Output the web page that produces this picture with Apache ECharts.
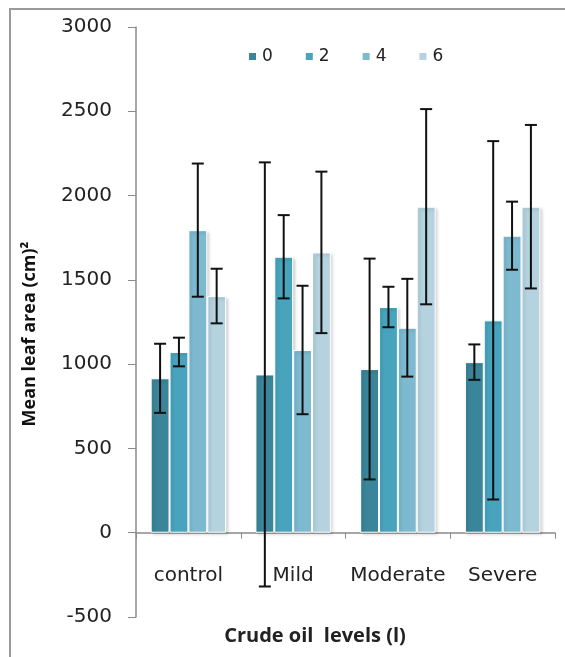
<!DOCTYPE html>
<html>
<head>
<meta charset="utf-8">
<script src="https://cdn.jsdelivr.net/npm/echarts@6/dist/echarts.min.js"></script>
<style>
  html, body { margin: 0; padding: 0; background: #fff; }
  #chart { width: 565px; height: 657px; }
</style>
</head>
<body>
<div id="chart"></div>
<script>
// Crude oil stress levels and plant age groups
const categories = ['control', 'Mild', 'Moderate', 'Severe'];
const seriesNames = ['0', '2', '4', '6'];

// Mean leaf area per group
const mean0 = [916, 939, 971, 1012];
const mean2 = [1072, 1637, 1339, 1260];
const mean4 = [1795, 1084, 1216, 1762];
const mean6 = [1404, 1663, 1934, 1934];

// Error (± value) per group
const err0 = [205, 1258, 655, 105];
const err2 = [85, 247, 120, 1063];
const err4 = [395, 381, 290, 202];
const err6 = [162, 479, 579, 485];

const yTicks = { min: -500, max: 3000, interval: 500 };

const means = [mean0, mean2, mean4, mean6];
const errs = [err0, err2, err4, err6];
const colors = ['#3a8599', '#48a4bd', '#7dbad0', '#b4d3df'];
const catGap = 0.28;
const labelFont = 'DejaVu Sans, sans-serif';
const titleFont = 'Open Sans, Liberation Sans, sans-serif';

const chart = echarts.init(document.getElementById('chart'));

const barSeries = seriesNames.map((name, i) => ({
  name: name,
  type: 'bar',
  data: means[i],
  barGap: '0%',
  barCategoryGap: (catGap * 100) + '%',
  itemStyle: {
    color: colors[i],
    borderColor: '#ffffff',
    borderWidth: 1,
    shadowColor: 'rgba(0,0,0,0.18)',
    shadowBlur: 3,
    shadowOffsetX: 2,
    shadowOffsetY: 2
  },
  z: 2
}));

// Error bars drawn on top of each bar
const errorSeries = seriesNames.map((name, i) => ({
  type: 'custom',
  name: 'err' + name,
  data: means[i].map((m, k) => [k, m - errs[i][k], m + errs[i][k]]),
  z: 10,
  silent: true,
  renderItem: function (params, api) {
    const k = api.value(0);
    const low = api.coord([k, api.value(1)]);
    const high = api.coord([k, api.value(2)]);
    const catW = api.size([1, 0])[0];
    const barW = catW * (1 - catGap) / 4;
    const x = low[0] + (i - 1.5) * barW;
    const cap = 6;
    const style = { stroke: '#111', lineWidth: 2 };
    return {
      type: 'group',
      children: [
        { type: 'line', shape: { x1: x, y1: low[1], x2: x, y2: high[1] }, style: style },
        { type: 'line', shape: { x1: x - cap, y1: high[1], x2: x + cap, y2: high[1] }, style: style },
        { type: 'line', shape: { x1: x - cap, y1: low[1], x2: x + cap, y2: low[1] }, style: style }
      ]
    };
  }
}));

chart.setOption({
  animation: false,
  backgroundColor: '#ffffff',
  graphic: [{
    type: 'rect',
    shape: { x: 10, y: 9, width: 570, height: 670 },
    style: { fill: 'none', stroke: '#9a9a9a', lineWidth: 2 },
    silent: true
  }, {
    type: 'text',
    x: 30,
    y: 334,
    rotation: Math.PI / 2,
    style: {
      text: 'Mean leaf area (cm)²',
      fontFamily: titleFont,
      fontSize: 18,
      fontWeight: 'bold',
      fill: '#111',
      align: 'center',
      verticalAlign: 'middle'
    }
  }, {
    type: 'text',
    x: 315,
    y: 636,
    style: {
      text: 'Crude oil  levels (l)',
      fontFamily: titleFont,
      fontSize: 20,
      fontWeight: 'bold',
      fill: '#222',
      align: 'center',
      verticalAlign: 'middle'
    }
  }],
  legend: {
    data: seriesNames,
    top: 43,
    left: 242,
    itemWidth: 9,
    itemHeight: 9,
    itemGap: 31,
    icon: 'rect',
    textStyle: { fontFamily: labelFont, fontSize: 17, color: '#222', padding: [0, 0, 0, 0] }
  },
  grid: { left: 136, right: 10, top: 27, bottom: 40 },
  xAxis: {
    type: 'category',
    data: categories,
    axisLine: { onZero: true, lineStyle: { color: '#8a8a8a', width: 1.5 } },
    axisTick: { show: true, length: 6, lineStyle: { color: '#8a8a8a' } },
    axisLabel: { fontFamily: labelFont, fontSize: 20, color: '#222', margin: -51, interval: 0 }
  },
  yAxis: {
    type: 'value',
    min: yTicks.min,
    max: yTicks.max,
    interval: yTicks.interval,
    splitLine: { show: false },
    axisLine: { show: true, lineStyle: { color: '#8a8a8a', width: 1.5 } },
    axisTick: { show: true, length: 8, lineStyle: { color: '#8a8a8a' } },
    axisLabel: {
      fontFamily: labelFont, fontSize: 20, color: '#222', margin: 24,
      formatter: v => String(v)
    }
  },
  series: barSeries.concat(errorSeries)
});
</script>
</body>
</html>
